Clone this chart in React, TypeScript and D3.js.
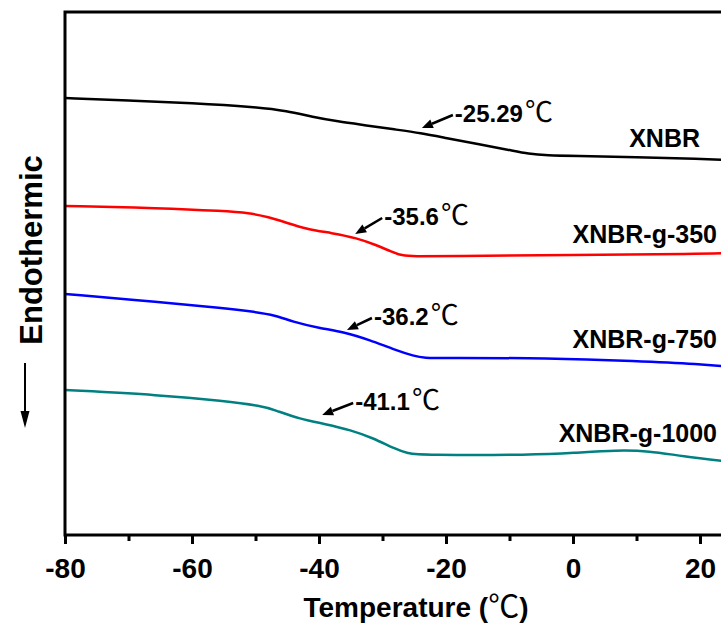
import React, { useEffect, useRef } from 'react';
import * as d3 from 'd3';

// DSC curves (heat flow, arbitrary units)
const xnbrTemp = [-80, -70, -60, -50, -45, -41, -37, -33, -28, -24, -20, -15, -10, -7, -4, 0, 10, 20, 25];
const xnbrFlow = [4.37, 4.345, 4.32, 4.28, 4.24, 4.18, 4.135, 4.1, 4.055, 4.02, 3.97, 3.91, 3.85, 3.81, 3.795, 3.79, 3.78, 3.76, 3.75];

const g350Temp = [-80, -65, -55, -51, -48, -45, -42, -38, -34, -31, -28.5, -27, -25, -20, 0, 20, 25];
const g350Flow = [3.29, 3.27, 3.24, 3.22, 3.18, 3.12, 3.06, 3.02, 2.97, 2.9, 2.83, 2.795, 2.785, 2.79, 2.8, 2.81, 2.82];

const g750Temp = [-80, -65, -55, -50, -47, -44, -40, -36, -32, -28, -25, -23.5, -20, -4, 10, 20, 25];
const g750Flow = [2.41, 2.33, 2.27, 2.23, 2.2, 2.13, 2.07, 2.03, 1.95, 1.85, 1.79, 1.77, 1.77, 1.77, 1.74, 1.71, 1.68];

const g1000Temp = [-80, -65, -55, -49, -47, -43, -39, -35, -31.5, -28, -26, -24, -6, 0, 7, 12, 17, 25];
const g1000Flow = [1.45, 1.4, 1.34, 1.29, 1.25, 1.16, 1.11, 1.05, 0.97, 0.86, 0.815, 0.8, 0.8, 0.82, 0.85, 0.84, 0.79, 0.73];

const seriesNames = ['XNBR', 'XNBR-g-350', 'XNBR-g-750', 'XNBR-g-1000'];
const seriesColors = ['#000000', '#ff0000', '#0000ff', '#008080'];

// Tg annotations: arrow tip on the curve
const tgLabels = ['-25.29', '-35.6', '-36.2', '-41.1'];
const tgTipTemp = [-23.8, -34.3, -35.6, -39.5];
const tgTipFlow = [4.07, 3.01, 2.05, 1.2];

const xTicks = [-80, -60, -40, -20, 0, 20];
const xMinorTicks = [-70, -50, -30, -10, 10];

const FONT = '"Liberation Sans", Arial, sans-serif';
const CJK = '"Noto Sans CJK SC", "DejaVu Sans", sans-serif';

const App: React.FC = () => {
  const ref = useRef<SVGSVGElement>(null);

  useEffect(() => {
    if (!ref.current) return;
    const svg = d3.select(ref.current);
    svg.selectAll('*').remove();

    const width = 721;
    const height = 625;
    const left = 65, top = 12, bottom = 535;

    const x = d3.scaleLinear().domain([-80, 25]).range([left, left + 105 * 6.35]);
    const y = d3.scaleLinear().domain([0, 5.23]).range([bottom, top]);

    svg.attr('width', width).attr('height', height);

    const series = [
      { temp: xnbrTemp, flow: xnbrFlow },
      { temp: g350Temp, flow: g350Flow },
      { temp: g750Temp, flow: g750Flow },
      { temp: g1000Temp, flow: g1000Flow },
    ].map((s, i) => ({
      name: seriesNames[i],
      color: seriesColors[i],
      points: s.temp.map((t, j) => [t, s.flow[j]] as [number, number]),
    }));

    const line = d3.line<[number, number]>()
      .x(d => x(d[0]))
      .y(d => y(d[1]))
      .curve(d3.curveBasis);

    series.forEach(s => {
      svg.append('path')
        .attr('d', line(s.points))
        .attr('fill', 'none')
        .attr('stroke', s.color)
        .attr('stroke-width', 2.5)
        .attr('stroke-linejoin', 'round');
    });

    // frame (right side runs off the image)
    svg.append('rect')
      .attr('x', left)
      .attr('y', top)
      .attr('width', x.range()[1] - left)
      .attr('height', bottom - top)
      .attr('fill', 'none')
      .attr('stroke', '#000')
      .attr('stroke-width', 3);

    // x axis
    const xAxis = svg.append('g')
      .attr('transform', `translate(0,${bottom})`)
      .call(d3.axisBottom(x).tickValues(xTicks).tickSize(9).tickPadding(14).tickFormat(d => String(d)));
    xAxis.select('.domain').remove();
    xAxis.selectAll('line').attr('stroke', '#000').attr('stroke-width', 3);
    xAxis.selectAll('text')
      .attr('fill', '#000')
      .style('font-family', FONT)
      .style('font-size', '28px')
      .style('font-weight', 'bold');

    const xMinor = svg.append('g')
      .attr('transform', `translate(0,${bottom})`)
      .call(d3.axisBottom(x).tickValues(xMinorTicks).tickSize(6).tickFormat(() => ''));
    xMinor.select('.domain').remove();
    xMinor.selectAll('line').attr('stroke', '#000').attr('stroke-width', 3);

    // x axis title
    const xt = svg.append('text')
      .attr('x', 416)
      .attr('y', 617)
      .attr('text-anchor', 'middle')
      .style('font-family', FONT)
      .style('font-size', '28px')
      .style('font-weight', 'bold');
    xt.append('tspan').text('Temperature (');
    xt.append('tspan').style('font-family', CJK).style('font-weight', 'normal').style('font-size', '31px').text('℃');
    xt.append('tspan').text(')');

    // y axis title with arrow
    svg.append('text')
      .attr('transform', 'translate(42,250) rotate(-90)')
      .attr('text-anchor', 'middle')
      .style('font-family', FONT)
      .style('font-size', '31px')
      .style('font-weight', 'bold')
      .text('Endothermic');
    svg.append('line')
      .attr('x1', 25).attr('x2', 25)
      .attr('y1', 363).attr('y2', 414)
      .attr('stroke', '#000').attr('stroke-width', 2);
    svg.append('path')
      .attr('d', 'M20.5,411 L29.5,411 L25,428 Z')
      .attr('fill', '#000');

    // series labels
    const labelPos = [
      { x: 700, y: 147 },
      { x: 717, y: 243 },
      { x: 717, y: 348 },
      { x: 717, y: 442 },
    ];
    series.forEach((s, i) => {
      svg.append('text')
        .attr('x', labelPos[i].x)
        .attr('y', labelPos[i].y)
        .attr('text-anchor', 'end')
        .attr('fill', '#000')
        .style('font-family', FONT)
        .style('font-size', '25px')
        .style('font-weight', 'bold')
        .text(s.name);
    });

    // Tg annotations
    const tails = [[31, -13], [27, -16], [25, -12], [31, -12]];
    tgLabels.forEach((lbl, i) => {
      const tx = x(tgTipTemp[i]);
      const ty = y(tgTipFlow[i]);
      const sx = tx + tails[i][0];
      const sy = ty + tails[i][1];
      const ang = Math.atan2(ty - sy, tx - sx);
      const hl = 11, hw = 4.5;
      const bx = tx - hl * Math.cos(ang);
      const by = ty - hl * Math.sin(ang);
      svg.append('line')
        .attr('x1', sx).attr('y1', sy)
        .attr('x2', bx).attr('y2', by)
        .attr('stroke', '#000').attr('stroke-width', 2.5);
      const px = -Math.sin(ang) * hw;
      const py = Math.cos(ang) * hw;
      svg.append('path')
        .attr('d', `M${tx},${ty} L${bx + px},${by + py} L${bx - px},${by - py} Z`)
        .attr('fill', '#000');

      const t = svg.append('text')
        .attr('x', sx + 2)
        .attr('y', sy + 7)
        .attr('fill', '#000')
        .style('font-family', FONT)
        .style('font-size', '24px')
        .style('font-weight', 'bold');
      t.append('tspan').text(lbl);
      t.append('tspan')
        .attr('dx', 2)
        .style('font-family', CJK)
        .style('font-weight', 'normal')
        .style('font-size', '28px')
        .text('℃');
    });
  }, []);

  return (
    <svg
      ref={ref}
      style={{ position: 'absolute', left: 0, top: 0, background: '#fff' }}
    ></svg>
  );
};

export default App;
